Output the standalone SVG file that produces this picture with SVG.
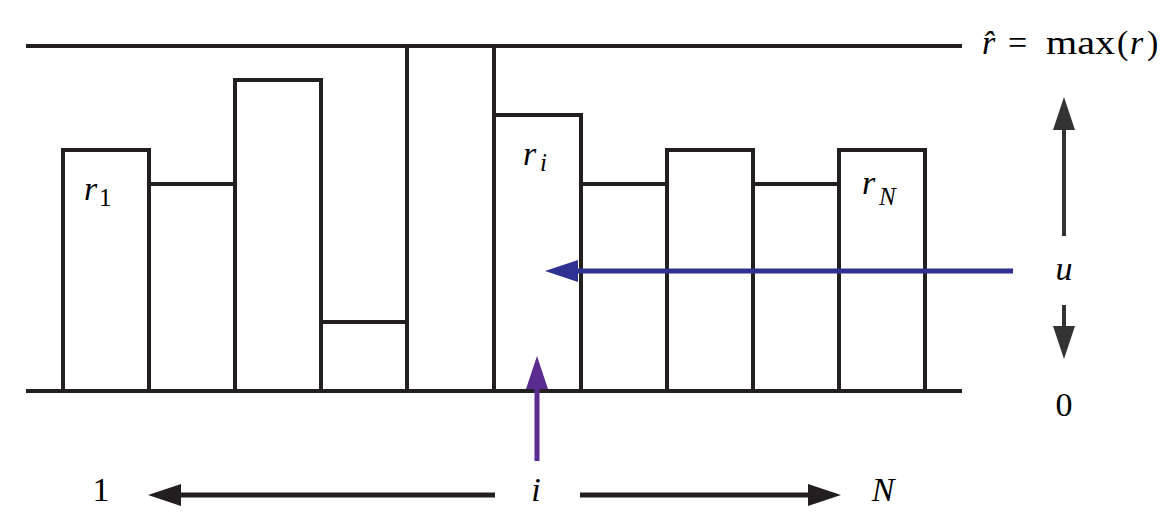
<svg xmlns="http://www.w3.org/2000/svg" width="1174" height="531" viewBox="0 0 1174 531">
<style>
.ln{stroke:#231f20;stroke-width:4;fill:none;stroke-linecap:square}
.t{font-family:"Liberation Serif","Times New Roman",serif;font-size:34px;fill:#000}
.it{font-style:italic}
.sub{font-size:25px}
.blk{stroke:#231f20;stroke-width:5;fill:none}
.blu{stroke:#2e3192;stroke-width:5;fill:none}
.pur{stroke:#5b2c8f;stroke-width:5;fill:none}
.gry{stroke:#333333;stroke-width:4;fill:none}
</style>
<defs>
<marker id="hb" markerUnits="userSpaceOnUse" markerWidth="33" markerHeight="22" refX="0" refY="11" orient="auto" viewBox="0 0 33 22"><path d="M0,0 L33,11 L0,22 z" fill="#231f20"/></marker>
<marker id="hu" markerUnits="userSpaceOnUse" markerWidth="33" markerHeight="22" refX="0" refY="11" orient="auto" viewBox="0 0 33 22"><path d="M0,0 L33,11 L0,22 z" fill="#2e3192"/></marker>
<marker id="hp" markerUnits="userSpaceOnUse" markerWidth="33" markerHeight="22" refX="0" refY="11" orient="auto" viewBox="0 0 33 22"><path d="M0,0 L33,11 L0,22 z" fill="#5b2c8f"/></marker>
<marker id="hg" markerUnits="userSpaceOnUse" markerWidth="33" markerHeight="22" refX="0" refY="11" orient="auto" viewBox="0 0 33 22"><path d="M0,0 L33,11 L0,22 z" fill="#333333"/></marker>
</defs>
<rect width="1174" height="531" fill="#fff"/>
<g id="axis-lines">
<line class="ln" x1="28" y1="46" x2="960" y2="46"/>
<line class="ln" x1="28" y1="391" x2="960" y2="391"/>
</g>
<g id="bar1"><rect class="ln" x="63" y="150" width="86" height="241"/></g>
<g id="bar2"><rect class="ln" x="149" y="184" width="86" height="207"/></g>
<g id="bar3"><rect class="ln" x="235" y="80" width="86" height="311"/></g>
<g id="bar4"><rect class="ln" x="321" y="322" width="86" height="69"/></g>
<g id="bar5"><rect class="ln" x="407" y="46" width="87" height="345"/></g>
<g id="bar6"><rect class="ln" x="494" y="115" width="87" height="276"/></g>
<g id="bar7"><rect class="ln" x="581" y="184" width="86" height="207"/></g>
<g id="bar8"><rect class="ln" x="667" y="150" width="86" height="241"/></g>
<g id="bar9"><rect class="ln" x="753" y="184" width="86" height="207"/></g>
<g id="bar10"><rect class="ln" x="839" y="150" width="86" height="241"/></g>
<g id="connectors">
<line class="blu" x1="1013" y1="271" x2="578" y2="271" marker-end="url(#hu)"/>
<line class="pur" x1="537" y1="461" x2="537" y2="389" marker-end="url(#hp)"/>
<line class="blk" x1="495" y1="495" x2="181" y2="495" marker-end="url(#hb)"/>
<line class="blk" x1="580" y1="495" x2="808" y2="495" marker-end="url(#hb)"/>
<line class="gry" x1="1064" y1="236" x2="1064" y2="130" marker-end="url(#hg)"/>
<line class="gry" x1="1064" y1="305" x2="1064" y2="326" marker-end="url(#hg)"/>
</g>
<g id="label-rmax">
<text class="t it" x="982" y="54">r&#770;</text>
<text class="t" x="1008" y="54">=</text>
<text class="t" x="1046" y="54" textLength="69" lengthAdjust="spacingAndGlyphs">max</text>
<text class="t" x="1117" y="54">(</text>
<text class="t it" x="1130" y="54">r</text>
<text class="t" x="1147" y="54">)</text>
</g>
<g id="label-r1"><text class="t it" x="84" y="200">r</text><text class="t sub" x="99" y="206">1</text></g>
<g id="label-ri"><text class="t it" x="523" y="165">r</text><text class="t it sub" x="540" y="171">i</text></g>
<g id="label-rN"><text class="t it" x="862" y="194">r</text><text class="t it sub" x="879" y="205">N</text></g>
<g id="label-u"><text class="t it" x="1064" y="280" text-anchor="middle">u</text></g>
<g id="label-0"><text class="t" x="1064" y="416" text-anchor="middle">0</text></g>
<g id="label-1"><text class="t" x="101" y="501" text-anchor="middle">1</text></g>
<g id="label-i"><text class="t it" x="536" y="501" text-anchor="middle">i</text></g>
<g id="label-N"><text class="t it" x="883" y="501" text-anchor="middle">N</text></g>
</svg>
